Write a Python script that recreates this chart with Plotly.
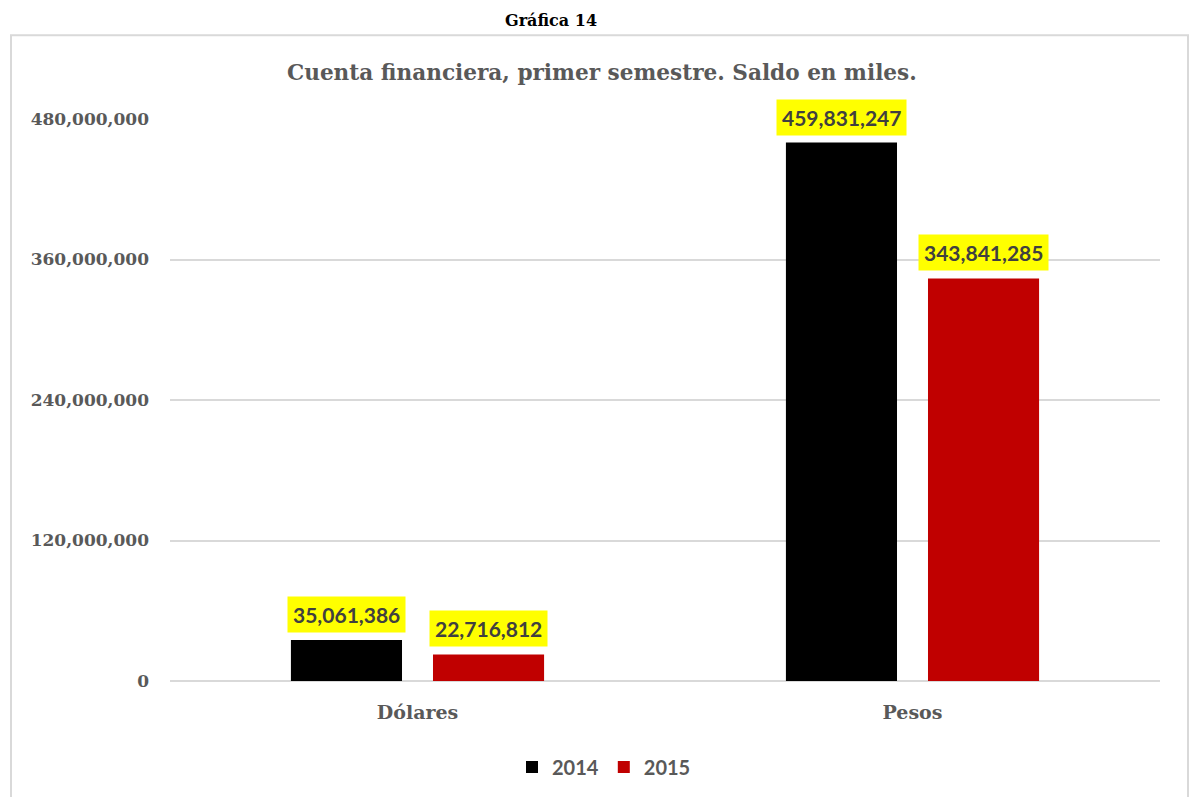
import plotly.graph_objects as go

categories = ["Dólares", "Pesos"]
years = ["2014", "2015"]
values_2014 = [35061386, 459831247]
values_2015 = [22716812, 343841285]
colors = ["#000000", "#C00000"]
tick_vals = [0, 120000000, 240000000, 360000000, 480000000]
tick_text = ["0", "120,000,000", "240,000,000", "360,000,000", "480,000,000"]

serif = "DejaVu Serif"
sans = "Lato"
gray = "#595959"

fig = go.Figure()
for name, vals, col in zip(years, [values_2014, values_2015], colors):
    fig.add_trace(go.Bar(
        x=categories, y=vals, name="<b>" + name + "</b>",
        marker=dict(color=col, line=dict(width=0)),
    ))

annotations = []
for ti, vals in enumerate([values_2014, values_2015]):
    for ci, v in enumerate(vals):
        annotations.append(dict(
            x=ci + (-0.1434 if ti == 0 else 0.1434), xref="x",
            y=v, yref="y", yanchor="bottom", yshift=7,
            text="<b>{:,}</b>".format(v), showarrow=False,
            font=dict(family=sans, size=21, color="#404040"),
            bgcolor="#FFFF00", borderpad=5,
        ))

annotations.append(dict(
    x=(551 - 170) / 990, xref="paper", y=(682 - 20) / 563, yref="paper",
    text="<b>Gráfica 14</b>", showarrow=False,
    font=dict(family=serif, size=16, color="#000000"),
    xanchor="center", yanchor="middle",
))
annotations.append(dict(
    x=(602 - 170) / 990, xref="paper", y=(682 - 72) / 563, yref="paper",
    text="<b>Cuenta financiera, primer semestre. Saldo en miles.</b>", showarrow=False,
    font=dict(family=serif, size=21.6, color=gray),
    xanchor="center", yanchor="middle",
))

fig.update_layout(
    width=1191, height=797,
    margin=dict(l=170, r=31, t=119, b=115),
    paper_bgcolor="white", plot_bgcolor="white",
    barmode="group", bargap=0.426, bargroupgap=0.218,
    showlegend=True,
    legend=dict(orientation="h", x=(604 - 170) / 990, xanchor="center",
                y=(682 - 767) / 563, yanchor="middle",
                font=dict(family=sans, size=20, color=gray),
                itemsizing="constant", traceorder="normal"),
    xaxis=dict(showgrid=False, showline=False, ticks="",
               ticklabelstandoff=18,
               tickfont=dict(family=serif, size=19, color=gray, weight="bold")),
    yaxis=dict(range=[0, 480000000], tickvals=tick_vals, ticktext=tick_text,
               showgrid=True, gridcolor="#D9D9D9", gridwidth=2,
               zeroline=True, zerolinecolor="#D9D9D9", zerolinewidth=2,
               showline=False, ticks="", ticklabelstandoff=20,
               tickfont=dict(family=serif, size=17, color=gray, weight="bold")),
    annotations=annotations,
    shapes=[dict(type="path", xref="paper", yref="paper",
                 path="M {x0},{yb} L {x0},{yt} L {x1},{yt} L {x1},{yb}".format(
                     x0=(11 - 170) / 990, x1=(1188 - 170) / 990,
                     yt=(682 - 35) / 563, yb=(682 - 810) / 563),
                 line=dict(color="#D9D9D9", width=2))],
)

fig.write_html("out.html")
